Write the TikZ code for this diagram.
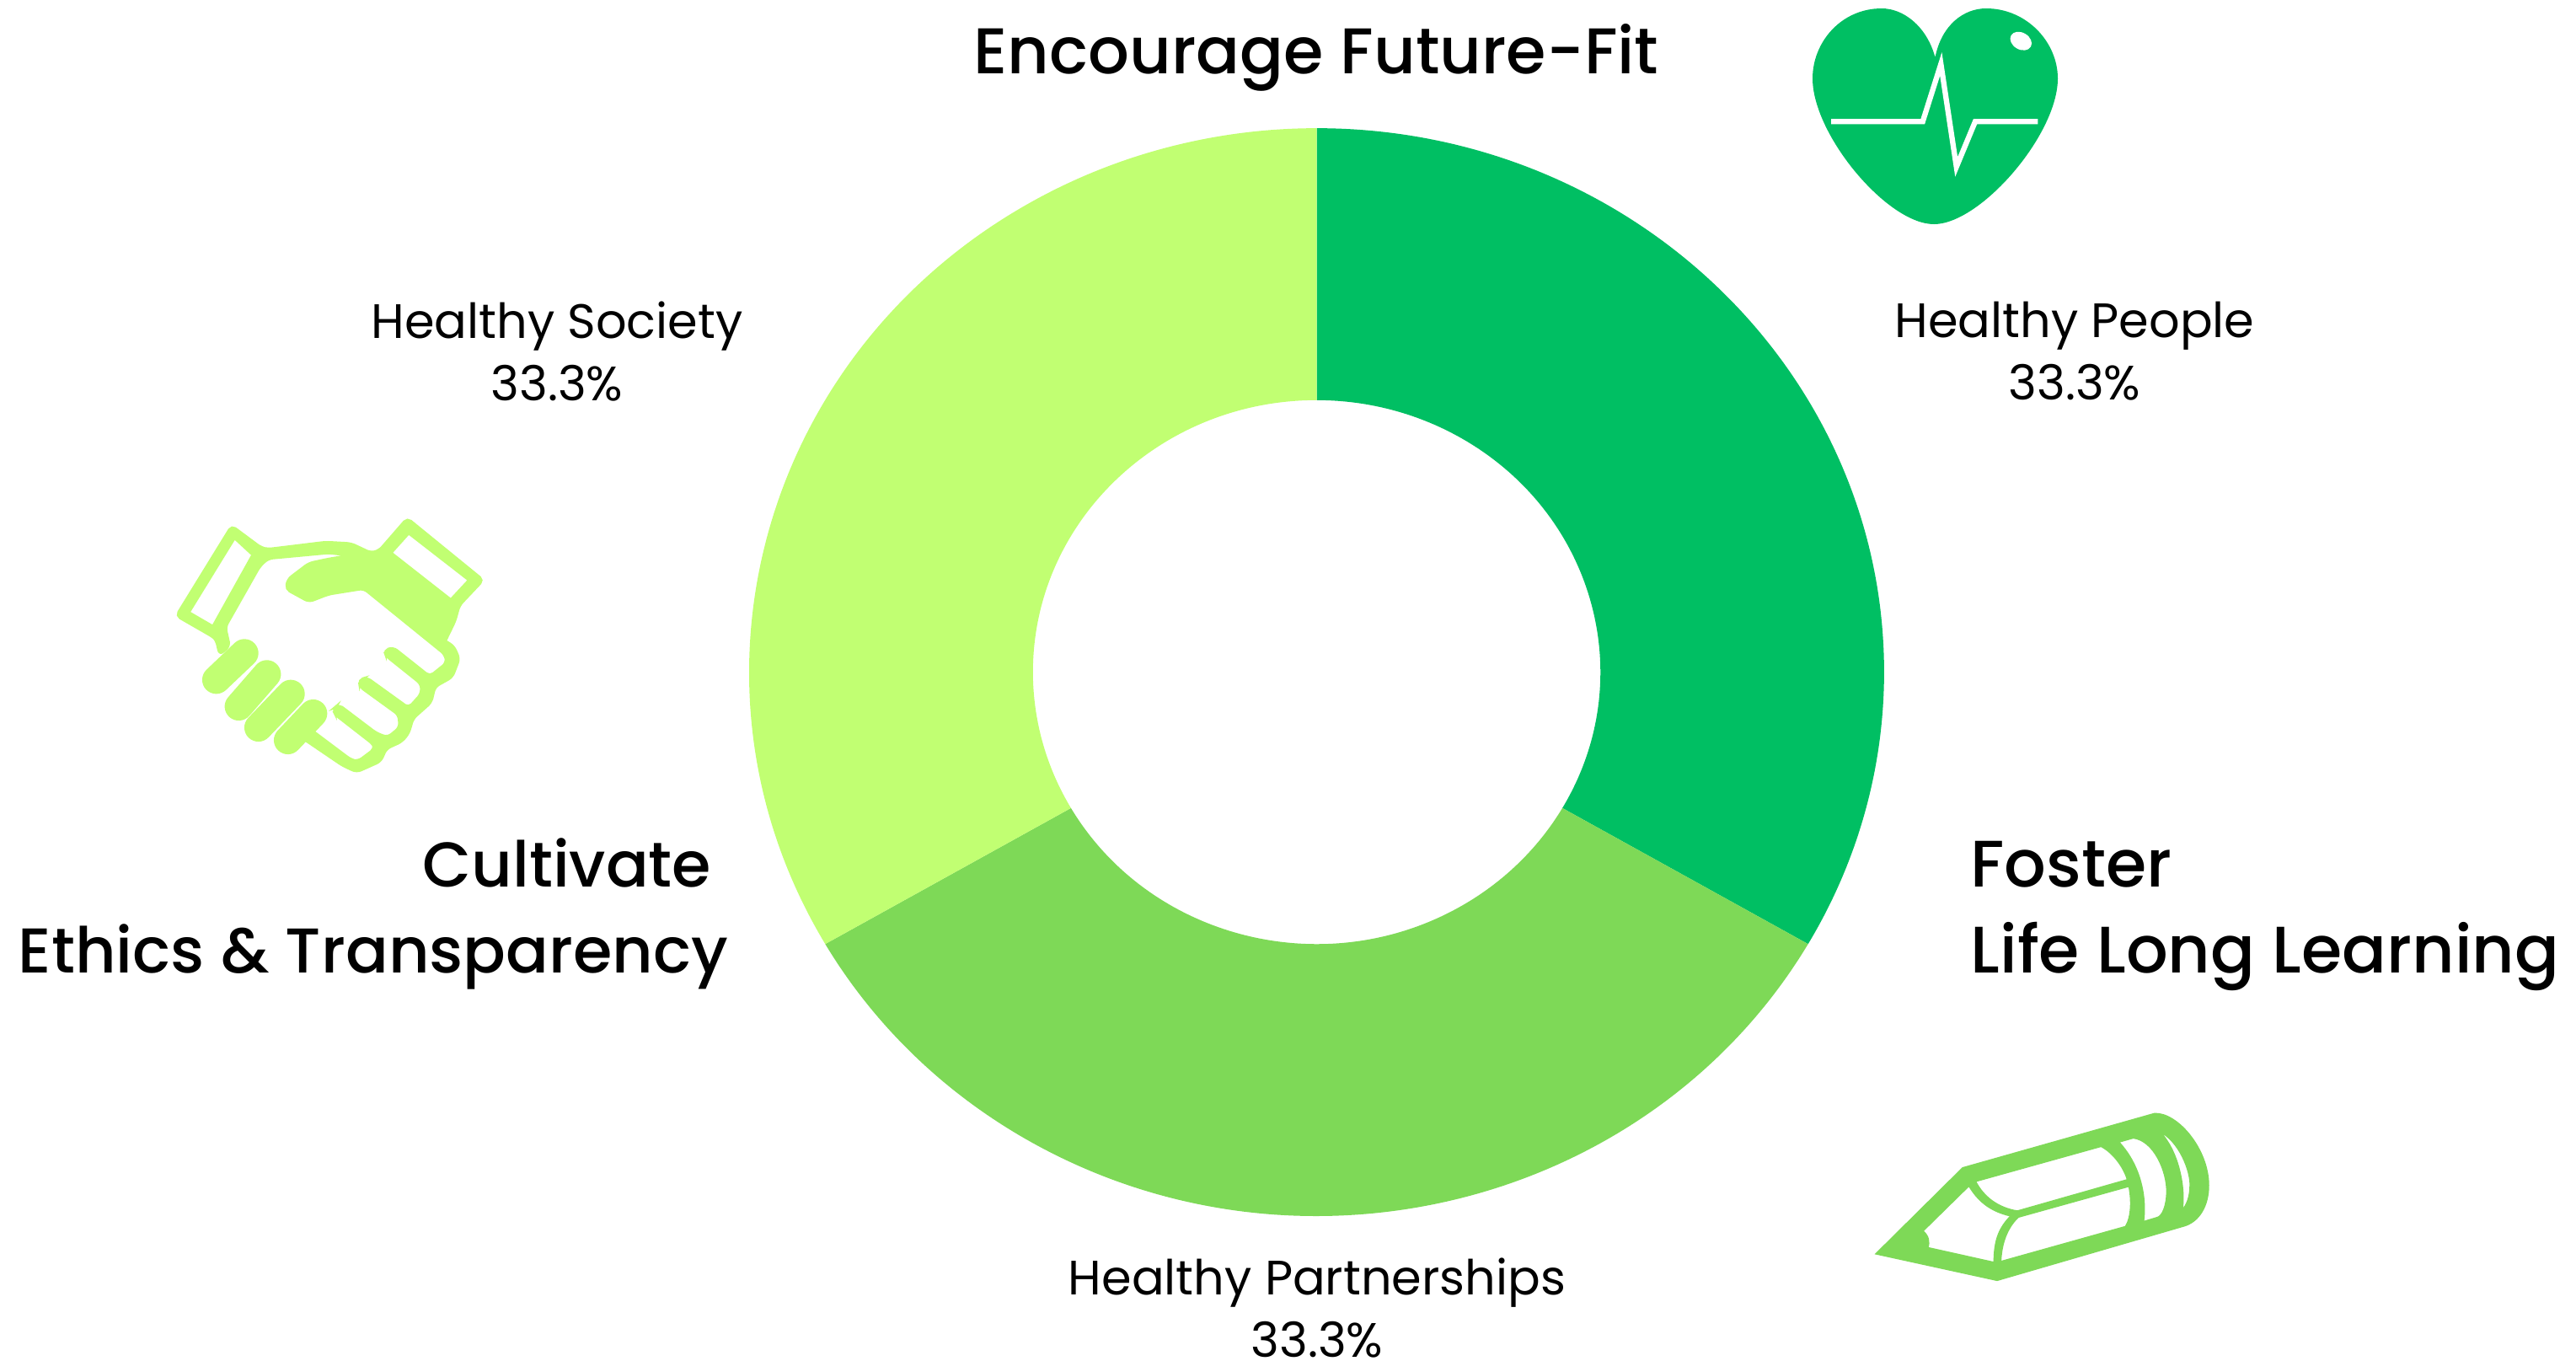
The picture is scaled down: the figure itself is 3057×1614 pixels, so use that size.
\documentclass[tikz,border=0pt]{standalone}
\usepackage{fontspec}
\setmainfont{Poppins}
\newfontfamily\mediumfont{Poppins Medium}
\usetikzlibrary{positioning}
\definecolor{darkgreen}{HTML}{00BF63}
\definecolor{midgreen}{HTML}{7ED957}
\definecolor{lightgreen}{HTML}{C1FF72}
\tikzstyle{headline} = [inner sep=0pt, font=\mediumfont\fontsize{21.8}{29}\selectfont]
\tikzstyle{share} = [inner sep=0pt, align=center, font=\fontsize{16.3}{21}\selectfont]
\tikzstyle{finger} = [draw, color=lightgreen, line width=9.5pt, line cap=round]
\newcommand{\headline}[3]{node (h#1) [headline,#2] {#3}}
\newcommand{\share}[2]{node (s#1) [share] {#2}}
\newcommand{\slice}[3]{\fill[#3] ([shift={(#1:6.73cm and 6.45cm)}]c) arc[start angle=#1,end angle=#2,x radius=6.73cm,y radius=6.45cm] -- ([shift={(#2:3.365cm and 3.225cm)}]c) arc[start angle=#2,end angle=#1,x radius=3.365cm,y radius=3.225cm] -- cycle;}
\begin{document}
\begin{tikzpicture}[x=0.01cm,y=-0.01cm]
\useasboundingbox (0,0) rectangle (3057,1614);
\coordinate (c) at (1562.5,797.5);
\slice{90}{-30}{darkgreen}
\slice{-30}{-150}{midgreen}
\slice{-150}{-270}{lightgreen}

\path (c)+(-0.5,-729.5) \headline{1}{anchor=center}{Encourage Future-Fit};
\path (c)+(775.5,289.5) \headline{2}{anchor=west,align=left,font=\mediumfont\fontsize{22.2}{29}\selectfont}{Foster\\Life Long Learning};
\path (c)+(-697.5,286.5) \headline{3}{anchor=east,align=right,font=\mediumfont\fontsize{21.35}{29}\selectfont}{Cultivate\hspace*{5.7pt}\\Ethics \& Transparency};

\path (c)+(899.5,-380.5) \share{1}{Healthy People\\33.3\%};
\path (c)+(-901.5,-380.5) \share{2}{Healthy Society\\33.3\%};
\path (c)+(0.5,754.5) \share{3}{Healthy Partnerships\\33.3\%};

\fill[darkgreen] (2296.5,68) .. controls (2286,30) and (2258,10) .. (2233,10) .. controls (2185,10) and (2151,50) .. (2151,93) .. controls (2151,160) and (2240,266) .. (2295,266) .. controls (2350,266) and (2442,160) .. (2442,93) .. controls (2442,50) and (2405,10) .. (2357,10) .. controls (2330,10) and (2304,30) .. (2296.5,68) -- cycle;
\draw[white,line width=1.8pt,miter limit=12] (2173,144.3) -- (2281.7,144.3) -- (2303.3,76) -- (2321.7,198) -- (2344,144.3) -- (2418.3,144.3);
\fill[white,rotate around={-30:(2398.3,48.7)}] (2398.3,48.7) ellipse [x radius=0.135cm,y radius=0.1cm];

\begin{scope}[shift={(190,600)},x=0.01cm/3,y=-0.01cm/3]
\filldraw[lightgreen,line width=0.9pt,even odd rule,rounded corners=1.5pt] (212,530) -- (200,478) -- (190,468) -- (58,392) -- (255,72) -- (360,150) -- (385,155) -- (590,130) -- (680,135) -- (750,168) -- (780,160) -- (880,45) -- (1150,265) -- (1065,355) -- (1050,410) [sharp corners] -- (1015,482) [rounded corners=1.5pt] -- (1045,500) -- (1065,545) -- (1040,610) -- (978,645) -- (965,700) -- (900,758) -- (885,810) -- (860,840) -- (805,865) -- (785,910) -- (700,948) -- (650,925) [sharp corners] -- (522,838) -- (548,806) [rounded corners=1.5pt] -- (680,905) -- (705,910) -- (765,865) -- (760,850) -- (625,745) -- (615,725) -- (635,708) -- (770,810) -- (810,825) -- (853,790) -- (850,745) -- (712,645) -- (708,620) -- (735,612) -- (885,720) -- (930,670) -- (930,635) -- (805,535) -- (798,515) -- (830,505) -- (960,608) -- (1020,560) -- (1015,530) -- (725,295) -- (600,315) -- (530,342) -- (448,297) -- (455,262) -- (530,205) -- (600,190) [sharp corners] -- (680,177) [rounded corners=1.5pt] -- (600,168) -- (385,188) -- (355,215) -- (232,432) -- (247,500) -- cycle
[sharp corners] (265,115) -- (330,175) -- (188,430) -- (102,380) -- cycle
(885,98) -- (1100,265) -- (1035,335) -- (822,168) -- cycle;
\draw[finger] (300,525) -- (200,620);
\draw[finger] (380,600) -- (280,715);
\draw[finger] (465,670) -- (350,790);
\draw[finger] (545,740) -- (455,835);
\end{scope}

\begin{scope}[shift={(2210,1300)},x=0.01cm/3,y=-0.01cm/3]
\filldraw[midgreen,line width=0.6pt,even odd rule] (50,563) -- (358,258) -- (1040,65) .. controls (1120,60) and (1232,190) .. (1232,320) .. controls (1232,390) and (1200,450) .. (1140,465) -- (480,657) -- cycle
(402,305) -- (850,180) .. controls (890,200) and (930,250) .. (945,300) -- (552,412) .. controls (480,400) and (430,360) .. (402,305) -- cycle
(555,432) -- (950,322) .. controls (960,370) and (960,430) .. (938,467) -- (492,592) .. controls (495,510) and (525,460) .. (555,432) -- cycle
(380,320) -- (215,482) .. controls (235,500) and (240,520) .. (232,542) -- (470,595) .. controls (470,510) and (490,470) .. (530,428) .. controls (450,410) and (410,370) .. (380,320) -- cycle
(912,165) -- (965,150) .. controls (1040,160) and (1085,270) .. (1085,340) .. controls (1085,390) and (1070,430) .. (1050,435) -- (1000,450) .. controls (1010,380) and (1000,260) .. (912,165) -- cycle
(1055,125) .. controls (1130,160) and (1170,270) .. (1168,320) .. controls (1168,360) and (1155,395) .. (1138,408) .. controls (1150,340) and (1130,200) .. (1055,125) -- cycle;
\end{scope}
\end{tikzpicture}
\end{document}
